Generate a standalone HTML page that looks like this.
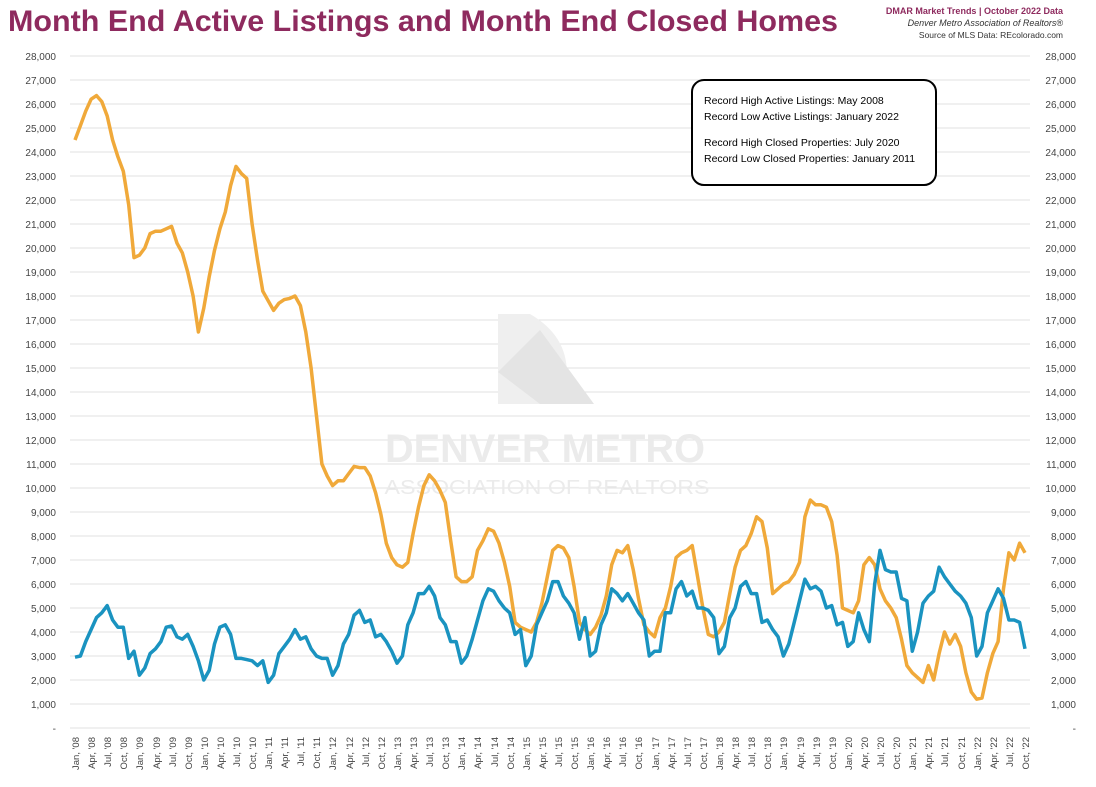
<!DOCTYPE html>
<html><head><meta charset="utf-8"><style>
body{margin:0;background:#fff;width:1096px;height:782px;overflow:hidden;font-family:"Liberation Sans",sans-serif}
</style></head><body>
<svg id="s" width="1096" height="782" xmlns="http://www.w3.org/2000/svg" font-family="Liberation Sans, sans-serif">
<text x="8" y="31" font-size="30" font-weight="bold" fill="#8e2a5e" textLength="830" lengthAdjust="spacingAndGlyphs">Month End Active Listings and Month End Closed Homes</text>
<text x="1063" y="14" font-size="9" font-weight="bold" fill="#8e2a5e" text-anchor="end">DMAR Market Trends | October 2022 Data</text>
<text x="1063" y="26" font-size="9" font-style="italic" fill="#333" text-anchor="end">Denver Metro Association of Realtors®</text>
<text x="1063" y="38" font-size="8.5" fill="#333" text-anchor="end">Source of MLS Data: REcolorado.com</text>
<g id="grid"></g>
<text x="545" y="462" font-size="40" font-weight="bold" fill="#ebebeb" text-anchor="middle" textLength="320" lengthAdjust="spacingAndGlyphs">DENVER METRO</text>
<text x="547" y="494" font-size="20" fill="#ebebeb" text-anchor="middle" textLength="325" lengthAdjust="spacingAndGlyphs">ASSOCIATION OF REALTORS</text>
<path d="M498,314 L530,314 Q575,340 565,390 L545,404 L498,404 Z" fill="#efefef"/>
<path d="M498,372 L540,330 L594,404 L540,404 Z" fill="#e4e4e4"/>
<g id="lab" font-size="10" fill="#444"></g>
<g font-size="9.5" fill="#444" text-anchor="end" id="xl">
<text transform="translate(79,737) rotate(-90)">Jan, '08</text><text transform="translate(95,737) rotate(-90)">Apr, '08</text><text transform="translate(111,737) rotate(-90)">Jul, '08</text><text transform="translate(127,737) rotate(-90)">Oct, '08</text>
<text transform="translate(143,737) rotate(-90)">Jan, '09</text><text transform="translate(160,737) rotate(-90)">Apr, '09</text><text transform="translate(176,737) rotate(-90)">Jul, '09</text><text transform="translate(192,737) rotate(-90)">Oct, '09</text>
<text transform="translate(208,737) rotate(-90)">Jan, '10</text><text transform="translate(224,737) rotate(-90)">Apr, '10</text><text transform="translate(240,737) rotate(-90)">Jul, '10</text><text transform="translate(256,737) rotate(-90)">Oct, '10</text>
<text transform="translate(272,737) rotate(-90)">Jan, '11</text><text transform="translate(288,737) rotate(-90)">Apr, '11</text><text transform="translate(304,737) rotate(-90)">Jul, '11</text><text transform="translate(320,737) rotate(-90)">Oct, '11</text>
<text transform="translate(336,737) rotate(-90)">Jan, '12</text><text transform="translate(353,737) rotate(-90)">Apr, '12</text><text transform="translate(369,737) rotate(-90)">Jul, '12</text><text transform="translate(385,737) rotate(-90)">Oct, '12</text>
<text transform="translate(401,737) rotate(-90)">Jan, '13</text><text transform="translate(417,737) rotate(-90)">Apr, '13</text><text transform="translate(433,737) rotate(-90)">Jul, '13</text><text transform="translate(449,737) rotate(-90)">Oct, '13</text>
<text transform="translate(465,737) rotate(-90)">Jan, '14</text><text transform="translate(481,737) rotate(-90)">Apr, '14</text><text transform="translate(498,737) rotate(-90)">Jul, '14</text><text transform="translate(514,737) rotate(-90)">Oct, '14</text>
<text transform="translate(530,737) rotate(-90)">Jan, '15</text><text transform="translate(546,737) rotate(-90)">Apr, '15</text><text transform="translate(562,737) rotate(-90)">Jul, '15</text><text transform="translate(578,737) rotate(-90)">Oct, '15</text>
<text transform="translate(594,737) rotate(-90)">Jan, '16</text><text transform="translate(610,737) rotate(-90)">Apr, '16</text><text transform="translate(626,737) rotate(-90)">Jul, '16</text><text transform="translate(642,737) rotate(-90)">Oct, '16</text>
<text transform="translate(659,737) rotate(-90)">Jan, '17</text><text transform="translate(675,737) rotate(-90)">Apr, '17</text><text transform="translate(691,737) rotate(-90)">Jul, '17</text><text transform="translate(707,737) rotate(-90)">Oct, '17</text>
<text transform="translate(723,737) rotate(-90)">Jan, '18</text><text transform="translate(739,737) rotate(-90)">Apr, '18</text><text transform="translate(755,737) rotate(-90)">Jul, '18</text><text transform="translate(771,737) rotate(-90)">Oct, '18</text>
<text transform="translate(787,737) rotate(-90)">Jan, '19</text><text transform="translate(804,737) rotate(-90)">Apr, '19</text><text transform="translate(820,737) rotate(-90)">Jul, '19</text><text transform="translate(836,737) rotate(-90)">Oct, '19</text>
<text transform="translate(852,737) rotate(-90)">Jan, '20</text><text transform="translate(868,737) rotate(-90)">Apr, '20</text><text transform="translate(884,737) rotate(-90)">Jul, '20</text><text transform="translate(900,737) rotate(-90)">Oct, '20</text>
<text transform="translate(916,737) rotate(-90)">Jan, '21</text><text transform="translate(932,737) rotate(-90)">Apr, '21</text><text transform="translate(948,737) rotate(-90)">Jul, '21</text><text transform="translate(965,737) rotate(-90)">Oct, '21</text>
<text transform="translate(981,737) rotate(-90)">Jan, '22</text><text transform="translate(997,737) rotate(-90)">Apr, '22</text><text transform="translate(1013,737) rotate(-90)">Jul, '22</text><text transform="translate(1029,737) rotate(-90)">Oct, '22</text>
</g>
<polyline id="o" fill="none" stroke="#f0a93a" stroke-width="3.5" stroke-linejoin="round"/>
<polyline id="b" fill="none" stroke="#1a93c0" stroke-width="3.5" stroke-linejoin="round"/>
<rect x="692" y="80" width="244" height="105" rx="12" fill="#fff" stroke="#000" stroke-width="2"/>
<g font-size="10.5" fill="#000">
<text x="704" y="104">Record High Active Listings: May 2008</text>
<text x="704" y="120">Record Low Active Listings: January 2022</text>
<text x="704" y="146">Record High Closed Properties: July 2020</text>
<text x="704" y="162">Record Low Closed Properties: January 2011</text>
</g>
</svg>
<script>
var O=[24.5,25.1,25.7,26.2,26.35,26.1,25.5,24.5,23.8,23.2,21.8,19.6,
19.7,20.0,20.6,20.7,20.7,20.8,20.9,20.2,19.8,19.0,18.0,16.5,
17.5,18.8,19.9,20.8,21.5,22.6,23.4,23.1,22.9,21.0,19.5,18.2,
17.8,17.4,17.7,17.85,17.9,18.0,17.6,16.5,15.0,13.0,11.0,10.5,
10.1,10.3,10.3,10.6,10.9,10.85,10.85,10.5,9.8,8.9,7.7,7.1,
6.8,6.7,6.9,8.1,9.2,10.1,10.55,10.3,9.9,9.4,7.8,6.3,
6.1,6.1,6.3,7.4,7.8,8.3,8.2,7.7,6.9,5.9,4.4,4.2,
4.1,4.0,4.4,5.2,6.3,7.4,7.6,7.5,7.1,5.9,4.4,4.1,
3.9,4.2,4.7,5.5,6.8,7.4,7.3,7.6,6.6,5.4,4.3,4.0,
3.8,4.6,5.0,5.9,7.1,7.3,7.4,7.6,6.3,5.0,3.9,3.8,
4.0,4.4,5.6,6.7,7.4,7.6,8.1,8.8,8.6,7.5,5.6,5.8,
6.0,6.1,6.4,6.9,8.8,9.5,9.3,9.3,9.2,8.6,7.2,5.0,
4.9,4.8,5.3,6.8,7.1,6.8,5.8,5.3,5.0,4.6,3.7,2.6,
2.3,2.1,1.9,2.6,2.0,3.1,4.0,3.5,3.9,3.4,2.3,1.5,
1.2,1.25,2.3,3.1,3.6,5.8,7.3,7.0,7.7,7.3];
var B=[2.95,3.0,3.6,4.1,4.6,4.8,5.1,4.5,4.2,4.2,2.9,3.2,
2.2,2.5,3.1,3.3,3.6,4.2,4.25,3.8,3.7,3.9,3.4,2.8,
2.0,2.4,3.5,4.2,4.3,3.9,2.9,2.9,2.85,2.8,2.6,2.8,
1.9,2.2,3.1,3.4,3.7,4.1,3.7,3.8,3.3,3.0,2.9,2.9,
2.2,2.6,3.5,3.9,4.7,4.9,4.4,4.5,3.8,3.9,3.6,3.2,
2.7,3.0,4.3,4.8,5.6,5.6,5.9,5.5,4.6,4.3,3.6,3.6,
2.7,3.0,3.7,4.5,5.3,5.8,5.7,5.3,5.0,4.8,3.9,4.1,
2.6,3.0,4.3,4.8,5.3,6.1,6.1,5.5,5.2,4.8,3.7,4.6,
3.0,3.2,4.3,4.8,5.8,5.6,5.3,5.6,5.2,4.8,4.5,3.0,
3.2,3.2,4.8,4.8,5.8,6.1,5.5,5.7,5.0,5.0,4.9,4.6,
3.1,3.4,4.6,5.0,5.9,6.1,5.6,5.6,4.4,4.5,4.1,3.8,
3.0,3.5,4.4,5.3,6.2,5.8,5.9,5.7,5.0,5.1,4.3,4.4,
3.4,3.6,4.8,4.1,3.6,6.0,7.4,6.6,6.5,6.5,5.4,5.3,
3.2,4.0,5.2,5.5,5.7,6.7,6.3,6.0,5.7,5.5,5.2,4.6,
3.0,3.4,4.8,5.3,5.8,5.4,4.5,4.5,4.4,3.3];
function pts(a){return a.map(function(v,i){return (75+i*5.367).toFixed(1)+","+(728-v*24).toFixed(1)}).join(" ")}
document.getElementById("o").setAttribute("points",pts(O));
document.getElementById("b").setAttribute("points",pts(B));
var g="",l="";
for(var k=0;k<=28;k++){var y=728-24*k;g+='<line x1="70" x2="1030" y1="'+y+'" y2="'+y+'" stroke="#e0e0e0" stroke-width="1"/>';
var t=k==0?"-":(k+",000");l+='<text x="56" y="'+(y+4)+'" text-anchor="end">'+t+'</text><text x="1076" y="'+(y+4)+'" text-anchor="end">'+t+'</text>';}
document.getElementById("grid").innerHTML=g;document.getElementById("lab").innerHTML=l;
</script>
</body></html>
